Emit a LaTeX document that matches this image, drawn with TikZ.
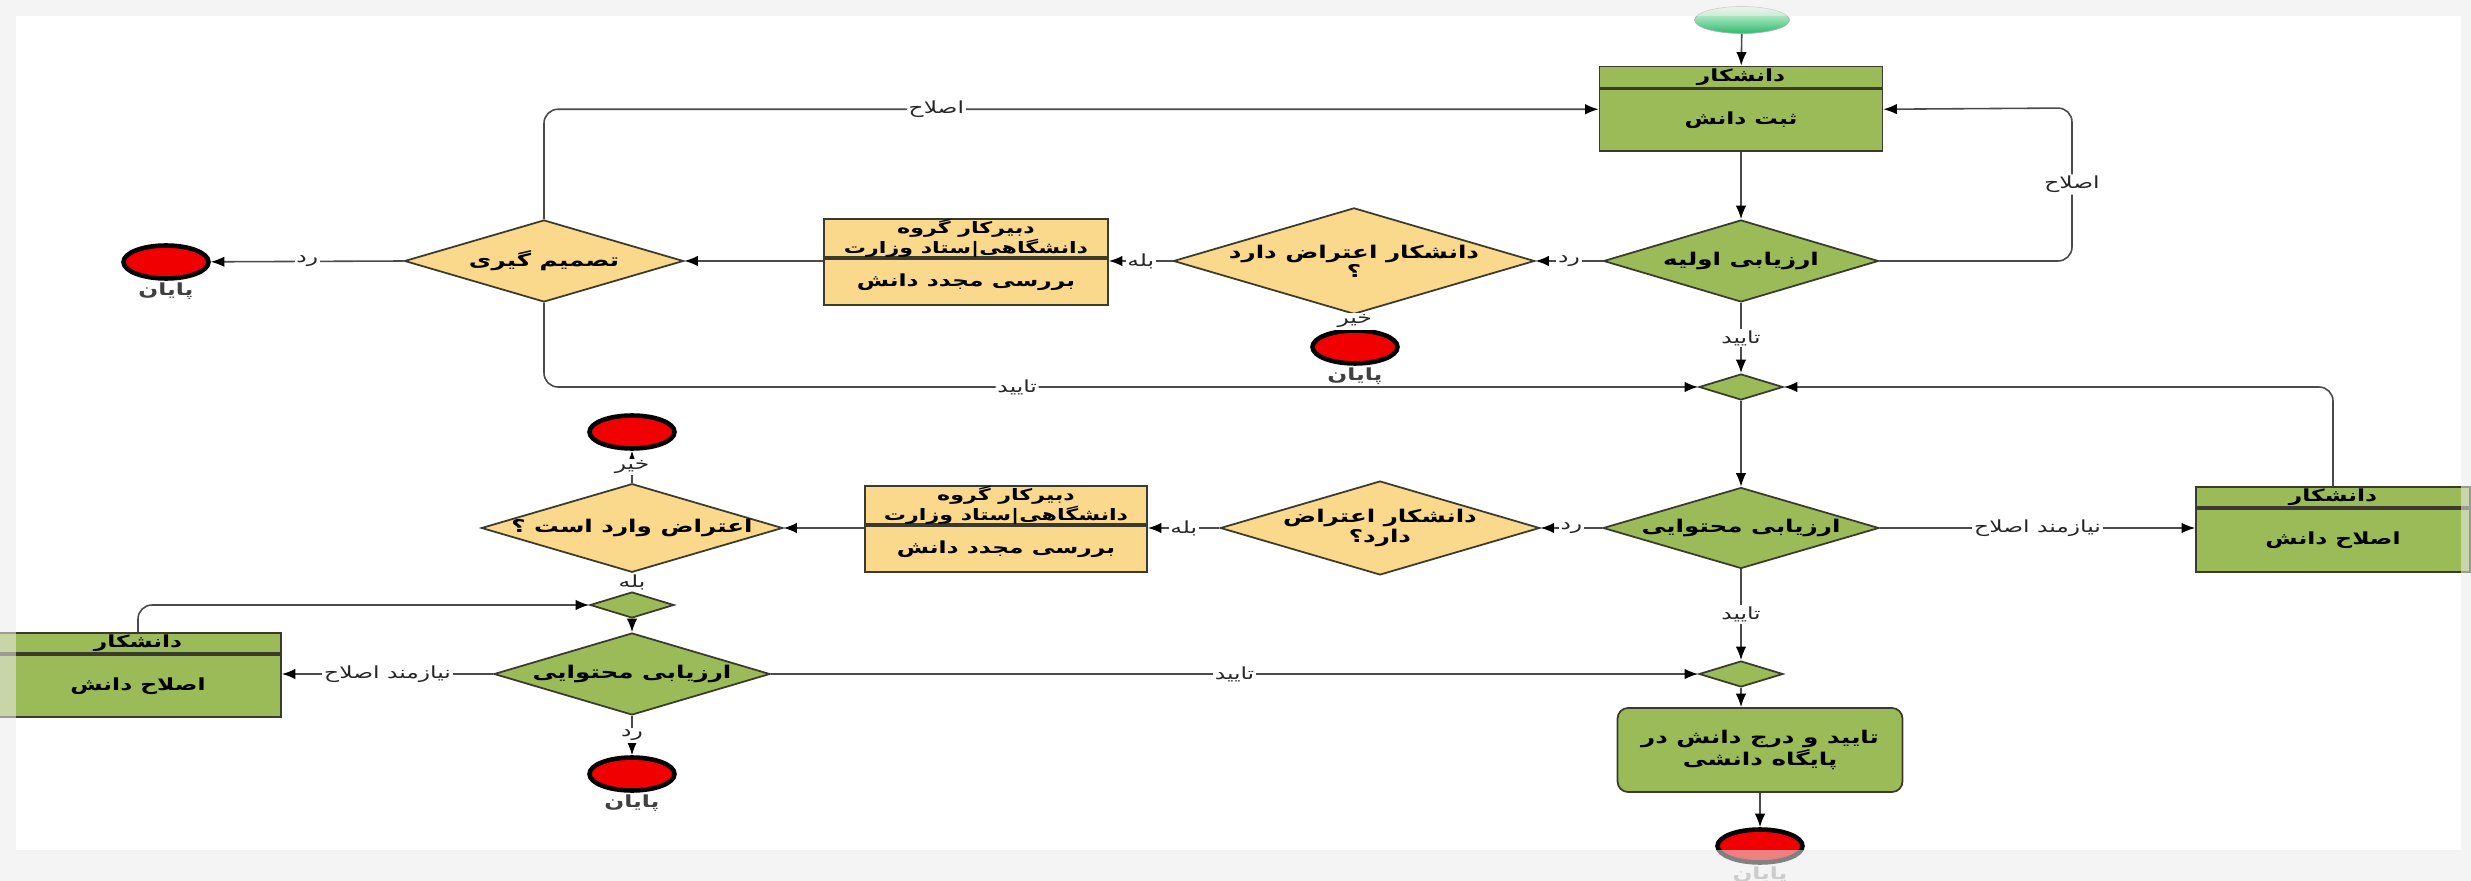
\documentclass[tikz,border=0pt]{standalone}
\usepackage{fontspec}
\usepackage{graphicx}
\usepackage{xcolor}
\usepackage{tikz}
\usetikzlibrary{arrows.meta,positioning,shapes.geometric}
\newfontfamily\fafont[Script=Arabic]{DejaVu Sans}
\TeXXeTstate=1
\newcommand{\fatxt}[1]{\scalebox{1.4}[1]{\beginR#1\endR}}
\definecolor{actgreen}{HTML}{9BBB59}
\definecolor{actyellow}{HTML}{FAD88C}
\definecolor{lineclr}{HTML}{4A4A4A}
\definecolor{edgeclr}{HTML}{3A3A2E}
\definecolor{stopred}{HTML}{F00000}
\definecolor{startgreen}{HTML}{2EBB6E}

\begin{document}
\begin{tikzpicture}
  [x=0.02cm,y=-0.02cm,
  every node/.style={font=\fafont\fontsize{9.5}{12}\selectfont},
  head/.style={rectangle,draw=edgeclr,line width=1pt,inner sep=0pt,align=center,
    font=\fafont\fontsize{9.5}{11}\selectfont\bfseries},
  twoline/.style={font=\fafont\fontsize{9}{9.4}\selectfont\bfseries},
  decision/.style={diamond,aspect=3.4,draw=edgeclr,line width=1pt,inner sep=0pt,align=center,
    font=\fafont\fontsize{10}{11}\selectfont\bfseries},
  merge/.style={diamond,draw=edgeclr,line width=1pt,fill=actgreen,inner sep=0pt,
    minimum width=1.68cm,minimum height=0.52cm},
  start/.style={ellipse,draw=gray!60,top color=green!8,bottom color=startgreen,inner sep=0pt,
    minimum width=1.9cm,minimum height=0.54cm},
  stop/.style={ellipse,draw=black,line width=2.6pt,fill=stopred,inner sep=0pt,
    minimum width=1.7cm,minimum height=0.66cm},
  endlbl/.style={font=\fafont\fontsize{9.5}{11}\selectfont\bfseries,text=black!75,inner sep=1pt},
  flow/.style={draw=lineclr,line width=0.9pt,-{Latex[length=2.7mm,width=2.1mm,color=black]}},
  lbl/.style={fill=white,inner sep=1pt,text=black!85}
  ]
  \useasboundingbox (0,0) rectangle (2471,881);
  \fill[white] (0,0) rectangle (2471,881);

  % first round
  \node[start] (start) at (1742,20) {};
  \node[head,fill=actgreen,minimum width=5.66cm,minimum height=0.42cm] (regh) at (1741,77) {\fatxt{دانشکار}};
  \node[head,fill=actgreen,minimum width=5.66cm,minimum height=1.24cm,below=0pt of regh] (reg) {\fatxt{ثبت دانش}};
  \node[decision,fill=actgreen,minimum width=5.5cm,minimum height=1.64cm] (eval1) at (1741,261) {\fatxt{ارزیابی اولیه}};
  \node[decision,fill=actyellow,minimum width=5.56cm,minimum height=1.66cm] (obj1) at (1354,261)
    {\fatxt{دانشکار اعتراض دارد}\\\fatxt{؟}};
  \node[stop,label={[endlbl]below:\fatxt{پایان}}] (end1) at (1355,347) {};
  \node[head,twoline,fill=actyellow,minimum width=5.68cm,minimum height=0.76cm] (rev1h) at (966,238)
    {\fatxt{دبیرکار گروه}\\\fatxt{دانشگاهی|ستاد وزارت}};
  \node[head,fill=actyellow,minimum width=5.68cm,minimum height=0.92cm,below=0pt of rev1h] (rev1) {\fatxt{بررسی مجدد دانش}};
  \node[decision,fill=actyellow,minimum width=5.58cm,minimum height=1.64cm] (dec1) at (544,261) {\fatxt{تصمیم گیری}};
  \node[stop,label={[endlbl]below:\fatxt{پایان}}] (end2) at (166,262) {};
  \node[merge] (merge1) at (1741,387) {};

  % second round
  \node[head,fill=actgreen,minimum width=5.48cm,minimum height=0.4cm] (fixh) at (2333,497) {\fatxt{دانشکار}};
  \node[head,fill=actgreen,minimum width=5.48cm,minimum height=1.26cm,below=0pt of fixh] (fix) {\fatxt{اصلاح دانش}};
  \node[decision,fill=actgreen,minimum width=5.52cm,minimum height=1.62cm] (eval2) at (1741,528) {\fatxt{ارزیابی محتوایی}};
  \node[decision,fill=actyellow,minimum width=5.54cm,minimum height=1.64cm] (obj2) at (1380,528)
    {\fatxt{دانشکار اعتراض}\\\fatxt{دارد؟}};
  \node[head,twoline,fill=actyellow,minimum width=5.64cm,minimum height=0.76cm] (rev2h) at (1006,505)
    {\fatxt{دبیرکار گروه}\\\fatxt{دانشگاهی|ستاد وزارت}};
  \node[head,fill=actyellow,minimum width=5.64cm,minimum height=0.92cm,below=0pt of rev2h] (rev2) {\fatxt{بررسی مجدد دانش}};
  \node[decision,fill=actyellow,minimum width=5.56cm,minimum height=1.62cm] (appeal) at (632,528) {\fatxt{اعتراض وارد است ؟}};
  \node[stop] (end3) at (632,432) {};
  \node[merge] (merge2) at (632,605) {};
  \node[decision,fill=actgreen,minimum width=5.52cm,minimum height=1.64cm] (eval3) at (632,674) {\fatxt{ارزیابی محتوایی}};
  \node[head,fill=actgreen,minimum width=5.72cm,minimum height=0.4cm] (fix2h) at (138,643) {\fatxt{دانشکار}};
  \node[head,fill=actgreen,minimum width=5.72cm,minimum height=1.24cm,below=0pt of fix2h] (fix2) {\fatxt{اصلاح دانش}};
  \node[stop,label={[endlbl]below:\fatxt{پایان}}] (end4) at (632,774) {};
  \node[merge] (merge3) at (1741,674) {};
  \node[head,fill=actgreen,rounded corners=6pt,minimum width=5.7cm,minimum height=1.68cm,
    font=\fafont\fontsize{10}{12}\selectfont\bfseries] (pub) at (1760,750)
    {\fatxt{تایید و درج دانش در}\\\fatxt{پایگاه دانشی}};
  \node[stop,label={[endlbl,text=black!35]below:\fatxt{پایان}}] (end5) at (1760,846) {};
  \coordinate (loopR) at (2072,108);

  % connectors
  \draw[flow] (start) -- (regh);
  \draw[flow] (reg) -- (eval1);
  \draw[flow] (eval1) -- node[lbl] {\fatxt{تایید}} (merge1);
  \draw[flow,rounded corners=8pt] (eval1.east) -| node[lbl,pos=0.75] {\fatxt{اصلاح}} (loopR) -- ([yshift=0.22cm]reg.east);
  \draw[flow] (eval1.west) -- node[lbl] {\fatxt{رد}} (obj1.east);
  \draw[flow] (obj1.west) -- node[lbl] {\fatxt{بله}} (obj1.west -| rev1.east);
  \draw[flow] (obj1) -- node[lbl] {\fatxt{خیر}} (end1);
  \draw[flow] (dec1.east -| rev1.west) -- (dec1.east);
  \draw[flow] (dec1.west) -- node[lbl] {\fatxt{رد}} (end2);
  \draw[flow,rounded corners=8pt] (dec1.north) |- node[lbl,pos=0.686] {\fatxt{اصلاح}} ([yshift=0.22cm]reg.west);
  \draw[flow,rounded corners=8pt] (dec1.south) |- node[lbl,pos=0.705] {\fatxt{تایید}} (merge1.west);
  \draw[flow,rounded corners=8pt] (fixh.north) |- (merge1.east);
  \draw[flow] (merge1) -- (eval2);
  \draw[flow] (eval2.east) -- node[lbl] {\fatxt{نیازمند اصلاح}} (eval2.east -| fix.west);
  \draw[flow] (eval2.west) -- node[lbl] {\fatxt{رد}} (obj2.east);
  \draw[flow] (obj2.west) -- node[lbl] {\fatxt{بله}} (obj2.west -| rev2.east);
  \draw[flow] (appeal.east -| rev2.west) -- (appeal.east);
  \draw[flow] (appeal) -- node[lbl] {\fatxt{خیر}} (end3);
  \draw[flow] (appeal) -- node[lbl] {\fatxt{بله}} (merge2);
  \draw[flow,rounded corners=8pt] (fix2h.north) |- (merge2.west);
  \draw[flow] (merge2) -- (eval3);
  \draw[flow] (eval3.west) -- node[lbl] {\fatxt{نیازمند اصلاح}} (eval3.west -| fix2.east);
  \draw[flow] (eval3) -- node[lbl] {\fatxt{رد}} (end4);
  \draw[flow] (eval3.east) -- node[lbl] {\fatxt{تایید}} (merge3.west);
  \draw[flow] (eval2) -- node[lbl] {\fatxt{تایید}} (merge3);
  \draw[flow] (merge3.south) -- (merge3.south |- pub.north);
  \draw[flow] (pub.south -| end5) -- (end5);

  % page frame
  \fill[gray!15,opacity=0.55] (0,0) rectangle (2471,16);
  \fill[gray!15,opacity=0.55] (0,16) rectangle (16,881);
  \fill[gray!15,opacity=0.55] (2461,16) rectangle (2471,881);
  \fill[gray!15,opacity=0.55] (16,850) rectangle (2461,881);
\end{tikzpicture}
\end{document}
